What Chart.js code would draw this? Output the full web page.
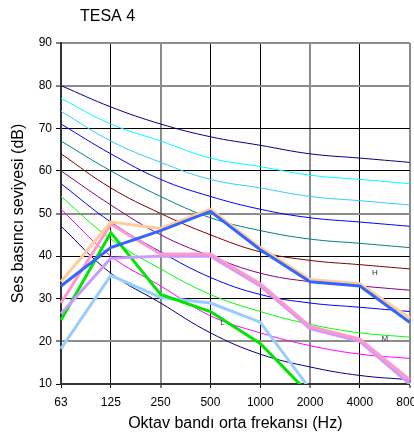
<!DOCTYPE html>
<html>
<head>
<meta charset="utf-8">
<script src="https://cdn.jsdelivr.net/npm/chart.js@4/dist/chart.umd.min.js"></script>
<style>
  html, body { margin: 0; padding: 0; background: #fff; overflow: hidden; }
  canvas { display: block; }
</style>
</head>
<body>
<canvas id="chart" width="430" height="433"></canvas>
<script>
const chartTitle = "TESA 4";
const frequencies = ["63", "125", "250", "500", "1000", "2000", "4000", "8000"];

// NC curves (dB per octave band)
const nc65 = [80, 75, 71, 68, 66, 64, 63, 62];
const nc60 = [77, 71, 67, 63, 61, 59, 58, 57];
const nc55 = [74, 67, 62, 58, 56, 54, 53, 52];
const nc50 = [71, 64, 58, 54, 51, 49, 48, 47];
const nc45 = [67, 60, 54, 49, 46, 44, 43, 42];
const nc40 = [64, 56, 50, 45, 41, 39, 38, 37];
const nc35 = [60, 52, 45, 40, 36, 34, 33, 32];
const nc30 = [57, 48, 41, 35, 31, 29, 28, 27];
const nc25 = [54, 44, 37, 31, 27, 24, 22, 21];
const nc20 = [51, 40, 33, 26, 22, 19, 17, 16];
const nc15 = [47, 36, 29, 22, 17, 14, 12, 11];

// measured spectra
const blueSeries = [33, 42, 46, 50.5, 41.5, 34, 33, 24.5];
const orangeSeries = [34, 48, 46.5, 51, 42, 34.5, 33.5, 25.5];
const greenSeries = [25, 45.5, 31, 27, 19.5, 7.5, 6, 5];
const skySeries = [18.3, 35.5, 30.3, 29, 24.5, 8.8, 6, 5];
const pinkSeries = [29, 47.5, 40.5, 40.5, 33.5, 23.5, 20.5, 11];
const lavenderSeries = [26.5, 39.5, 40, 40, 33, 23, 20, 10];

const yTicks = [10, 20, 30, 40, 50, 60, 70, 80, 90];

// small letters written on the plot (in data units)
const noteTexts = ["H", "L", "M"];
const noteBands = [6.3, 3.24, 6.5];
const noteLevels = [36.1, 24.4, 20.6];

const FONT = '"Liberation Sans", Arial, sans-serif';

function ncLine(data, color) {
  return {
    data: data,
    borderColor: color,
    borderWidth: 1,
    pointRadius: 0,
    tension: 0.4,
    fill: false,
    order: 2,
  };
}

function measuredLine(data, color) {
  return {
    data: data,
    borderColor: color,
    borderWidth: 3,
    pointRadius: 0,
    tension: 0,
    fill: false,
    order: 1,
  };
}

const greyY = [20, 50, 80, 90];
const greyX = [2, 5, 7];

const titlePlugin = {
  id: "tesaTitle",
  afterDraw(chart) {
    const ctx = chart.ctx;
    ctx.save();
    ctx.font = "16px " + FONT;
    ctx.fillStyle = "#000";
    ctx.textBaseline = "middle";
    ctx.fillText(chartTitle, 80, 17);
    ctx.restore();
  },
};

const notePlugin = {
  id: "curveNotes",
  afterDatasetsDraw(chart) {
    const ctx = chart.ctx;
    const xs = chart.scales.x;
    const ys = chart.scales.y;
    ctx.save();
    ctx.font = "8px " + FONT;
    ctx.fillStyle = "#333";
    ctx.textAlign = "center";
    ctx.textBaseline = "middle";
    noteTexts.forEach((t, i) => {
      ctx.fillText(t, xs.getPixelForValue(noteBands[i]), ys.getPixelForValue(noteLevels[i]));
    });
    ctx.restore();
  },
};

new Chart(document.getElementById("chart").getContext("2d"), {
  type: "line",
  data: {
    labels: frequencies,
    datasets: [
      measuredLine(blueSeries, "#3366ff"),
      measuredLine(orangeSeries, "#ffcc99"),
      measuredLine(pinkSeries, "#ff99cc"),
      measuredLine(lavenderSeries, "#cc99ff"),
      measuredLine(greenSeries, "#00e600"),
      measuredLine(skySeries, "#99ccff"),
      ncLine(nc65, "#000080"),
      ncLine(nc60, "#00ffff"),
      ncLine(nc55, "#33ccff"),
      ncLine(nc50, "#0000ff"),
      ncLine(nc45, "#008080"),
      ncLine(nc40, "#800000"),
      ncLine(nc35, "#800080"),
      ncLine(nc30, "#0000ff"),
      ncLine(nc25, "#00ff00"),
      ncLine(nc20, "#ff00ff"),
      ncLine(nc15, "#000080"),
    ],
  },
  options: {
    responsive: false,
    animation: false,
    devicePixelRatio: 1,
    layout: { padding: { top: 43, right: 17, left: 0, bottom: 0 } },
    plugins: {
      legend: { display: false },
      tooltip: { enabled: false },
      title: { display: false },
    },
    scales: {
      x: {
        offset: false,
        afterFit: (scale) => { scale.height = 49; },
        grid: {
          color: (c) => (greyX.includes(c.index) ? "#8c8c8c" : "#000"),
          lineWidth: (c) => (greyX.includes(c.index) ? 2 : 1),
          tickColor: "#000",
          tickWidth: 1,
          tickLength: 4,
        },
        border: { color: "#333", width: 2 },
        ticks: { color: "#000", font: { family: FONT, size: 12 }, padding: 7, maxRotation: 0, autoSkip: false },
        title: {
          display: true,
          text: "Oktav bandı orta frekansı (Hz)",
          color: "#000",
          font: { family: FONT, size: 16 },
          padding: { top: 0, bottom: 0 },
        },
      },
      y: {
        min: 10,
        max: 90,
        afterFit: (scale) => { scale.width = 61; },
        afterBuildTicks: (scale) => { scale.ticks = yTicks.map((v) => ({ value: v })); },
        grid: {
          color: (c) => (c.tick && greyY.includes(c.tick.value) ? "#8c8c8c" : "#000"),
          lineWidth: (c) => (c.tick && greyY.includes(c.tick.value) ? 2 : 1),
          tickColor: "#000",
          tickWidth: 1,
          tickLength: 5,
        },
        border: { color: "#333", width: 2 },
        ticks: { color: "#000", font: { family: FONT, size: 12 }, padding: 4 },
        title: {
          display: true,
          text: "Ses basıncı seviyesi (dB)",
          color: "#000",
          font: { family: FONT, size: 16 },
          padding: { top: 9, bottom: 0 },
        },
      },
    },
  },
  plugins: [titlePlugin, notePlugin],
});
</script>
</body>
</html>
